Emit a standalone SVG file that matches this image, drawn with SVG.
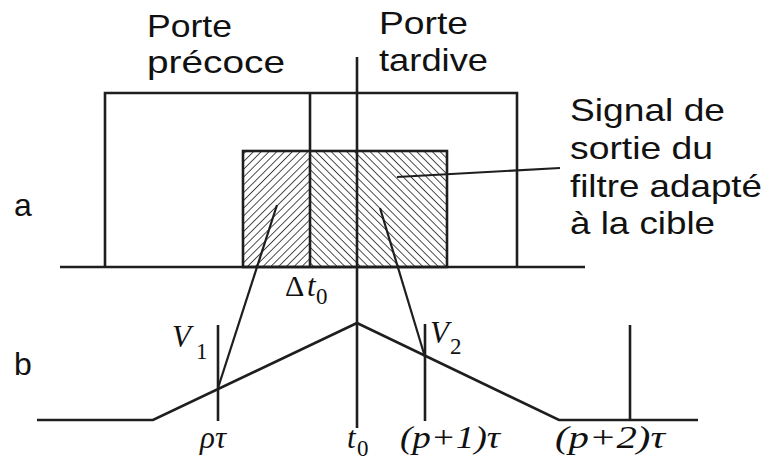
<svg xmlns="http://www.w3.org/2000/svg" width="768" height="461" viewBox="0 0 768 461">
<defs>
<pattern id="hatchR" patternUnits="userSpaceOnUse" width="5.5" height="5.5" patternTransform="rotate(45)">
<line x1="0" y1="0" x2="0" y2="5.5" stroke="#222" stroke-width="1.6"/>
</pattern>
<pattern id="hatchL" patternUnits="userSpaceOnUse" width="5.5" height="5.5" patternTransform="rotate(-45)">
<line x1="0" y1="0" x2="0" y2="5.5" stroke="#222" stroke-width="1.6"/>
</pattern>
</defs>
<style>
.ln{stroke:#1e1e1e;stroke-width:2.6;fill:none;stroke-linecap:butt}
.thin{stroke:#1e1e1e;stroke-width:2.2;fill:none}
.sans{font-family:"Liberation Sans",Arial,sans-serif;font-size:32px;fill:#111}
.math{font-family:"Liberation Serif","Times New Roman",serif;font-style:italic;font-size:31px;fill:#111}
.sub{font-family:"Liberation Serif","Times New Roman",serif;font-size:23px;fill:#111}
.up{font-family:"Liberation Serif","Times New Roman",serif;font-size:30px;fill:#111}
</style>
<rect width="768" height="461" fill="#fff"/>

<g id="signal">
<rect x="243" y="151" width="67" height="116" fill="url(#hatchR)"/>
<rect x="310" y="151" width="137" height="116" fill="url(#hatchL)"/>
<rect x="243" y="151" width="204" height="116" class="ln"/>
</g>

<g id="gates">
<polyline points="105,267 105,93 517,93 517,267" class="ln"/>
<line x1="310" y1="93" x2="310" y2="267" class="ln"/>
</g>

<g id="axis-a">
<line x1="60" y1="267" x2="585" y2="267" class="ln"/>
</g>

<g id="axis-b">
<polyline points="37,420 153,420 357,323 559,420 698,420" class="ln"/>
<line x1="218" y1="325" x2="218" y2="421" class="ln"/>
<line x1="425" y1="324" x2="425" y2="421" class="ln"/>
<line x1="630" y1="325" x2="630" y2="420" class="ln"/>
</g>

<g id="center">
<line x1="357" y1="57" x2="357" y2="428" class="ln"/>
</g>

<g id="connectors">
<line x1="277" y1="205" x2="218" y2="388" class="thin"/>
<line x1="380" y1="208" x2="425" y2="357" class="thin"/>
<line x1="397" y1="177" x2="560" y2="168" class="thin"/>
</g>

<g id="labels">
<text class="sans" x="147" y="37" textLength="85" lengthAdjust="spacingAndGlyphs">Porte</text>
<text class="sans" x="147" y="73" textLength="138" lengthAdjust="spacingAndGlyphs">précoce</text>
<text class="sans" x="379" y="34" textLength="89" lengthAdjust="spacingAndGlyphs">Porte</text>
<text class="sans" x="379" y="71" textLength="109" lengthAdjust="spacingAndGlyphs">tardive</text>
<text class="sans" x="570" y="121" textLength="155" lengthAdjust="spacingAndGlyphs">Signal de</text>
<text class="sans" x="570" y="159" textLength="143" lengthAdjust="spacingAndGlyphs">sortie du</text>
<text class="sans" x="570" y="197" textLength="192" lengthAdjust="spacingAndGlyphs">filtre adapté</text>
<text class="sans" x="570" y="234" textLength="145" lengthAdjust="spacingAndGlyphs">à la cible</text>
<text class="sans" x="14" y="216">a</text>
<text class="sans" x="14" y="375">b</text>
<text class="up" x="285" y="296">Δ</text>
<text class="math" x="307" y="296">t</text>
<text class="sub" x="316" y="304">0</text>
<text class="math" x="172" y="347">V</text>
<text class="sub" x="196" y="359">1</text>
<text class="math" x="430" y="343">V</text>
<text class="sub" x="450" y="354">2</text>
<text class="math" x="200" y="448">ρτ</text>
<text class="math" x="347" y="448">t</text>
<text class="sub" x="357" y="456">0</text>
<text class="math" x="400" y="448" textLength="100" lengthAdjust="spacingAndGlyphs">(p+1)τ</text>
<text class="math" x="555" y="448" textLength="110" lengthAdjust="spacingAndGlyphs">(p+2)τ</text>
</g>
</svg>
